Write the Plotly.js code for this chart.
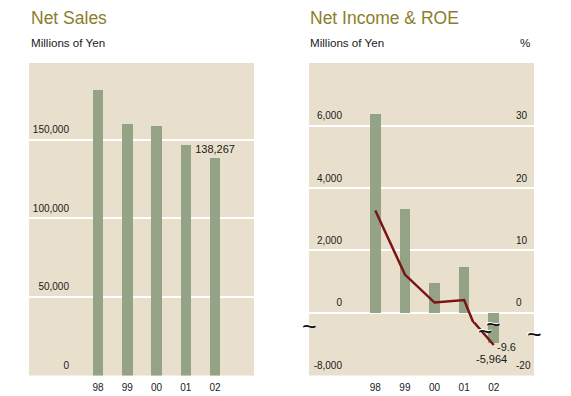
<!DOCTYPE html>
<html><head><meta charset="utf-8">
<script src="https://cdn.plot.ly/plotly-3.0.1.min.js"></script>
<style>html,body{margin:0;padding:0;background:#fff;}#chart{width:571px;height:396px;}</style>
</head><body><div id="chart"></div>
<script>
// ---- data ----
const years = ['98', '99', '00', '01', '02'];
const netSales = [181800, 160200, 158700, 146800, 138267];
const netIncome = [6380, 3330, 960, 1470, -5964];
const roe = [16.4, 6.1, 1.6, 2.0, -9.6];
const salesTicks = [0, 50000, 100000, 150000];
const incomeTicksTop = [0, 2000, 4000, 6000];
const incomeTicksBottom = [-8000];
const roeTicksTop = [0, 10, 20, 30];
const roeTicksBottom = [-20];

// ---- styling ----
const W = 571, H = 396;
const px = x => x / W;
const py = y => 1 - y / H;
const FONT = 'Arial, "Liberation Sans", sans-serif';
const BG = '#E8E0CC', BAR = '#94A286', LINE = '#7C1414', TITLE = '#8B7E2C', TXT = '#1a1a1a';
const tickFont = {family: FONT, size: 10, color: TXT};
const fmt = v => v.toLocaleString('en-US');
const last = years.length - 1;

const leftX = [px(29), px(254)];
const rightX = [px(309), px(534)];
const topY = 63, botY = 375.5, splitY = 322;

const baseX = {type: 'category', ticks: '', showgrid: false, zeroline: false, showline: false,
  tickfont: tickFont, automargin: false, fixedrange: true, ticklabelstandoff: 4};
const baseY = {ticks: '', zeroline: false, showline: false, tickfont: tickFont, automargin: false,
  fixedrange: true, gridcolor: '#FFFFFF', gridwidth: 2, tickmode: 'array',
  ticklabelposition: 'outside', ticklabelshift: -10};

const traces = [
  {type: 'bar', x: years, y: netSales, xaxis: 'x', yaxis: 'y', width: 0.36,
   marker: {color: BAR}, text: netSales.map((v, i) => i === last ? fmt(v) : ''),
   textposition: 'outside', cliponaxis: false, constraintext: 'none',
   textfont: {family: FONT, size: 11, color: TXT}, hoverinfo: 'skip'},
  {type: 'bar', x: years, y: netIncome, xaxis: 'x2', yaxis: 'y2', width: 0.36,
   marker: {color: BAR}, hoverinfo: 'skip'},
  {type: 'scatter', mode: 'lines', x: years, y: roe, xaxis: 'x2', yaxis: 'y3',
   line: {color: LINE, width: 2.5}, hoverinfo: 'skip'},
  {type: 'bar', x: years, y: netIncome, xaxis: 'x3', yaxis: 'y4', width: 0.36,
   marker: {color: BAR}, hoverinfo: 'skip'},
  {type: 'scatter', mode: 'lines', x: years, y: roe, xaxis: 'x3', yaxis: 'y5',
   line: {color: LINE, width: 2.5}, hoverinfo: 'skip'}
];

function ann(text, x, y, opts) {
  return Object.assign({text: text, x: px(x), y: py(y), xref: 'paper', yref: 'paper',
    showarrow: false, xanchor: 'left', yanchor: 'middle',
    font: {family: FONT, size: 11.6, color: TXT}}, opts || {});
}
const tildeWhite = (x, y) => ann('<b>~</b>', x, y, {xanchor: 'center', font: {family: FONT, size: 27, color: '#FFFFFF'}});
const tilde = (x, y) => ann('~', x, y, {xanchor: 'center', font: {family: FONT, size: 25, color: '#111'}});
const tildePts = [[309, 326], [493, 324], [485, 331], [534, 334]];

const layout = {
  width: W, height: H, margin: {l: 0, r: 0, t: 0, b: 0},
  paper_bgcolor: '#FFFFFF', plot_bgcolor: BG, showlegend: false, bargap: 0,
  xaxis: Object.assign({}, baseX, {domain: leftX, anchor: 'y', range: [-2.36, 5.33]}),
  yaxis: Object.assign({}, baseY, {domain: [py(botY), py(topY)], anchor: 'x', range: [0, 199000],
    tickvals: salesTicks, ticktext: salesTicks.map(fmt), showgrid: true, ticklabelstandoff: -41}),
  xaxis2: Object.assign({}, baseX, {domain: rightX, anchor: 'y2', range: [-2.24, 5.36], showticklabels: false}),
  yaxis2: Object.assign({}, baseY, {domain: [py(splitY), py(topY)], anchor: 'x2', range: [-305.5, 8022.5],
    tickvals: incomeTicksTop, ticktext: incomeTicksTop.map(fmt), showgrid: true, ticklabelstandoff: -34}),
  yaxis3: Object.assign({}, baseY, {overlaying: 'y2', anchor: 'x2', side: 'right', range: [-1.527, 40.11],
    tickvals: roeTicksTop, ticktext: roeTicksTop.map(fmt), showgrid: false, ticklabelstandoff: -19}),
  xaxis3: Object.assign({}, baseX, {domain: rightX, anchor: 'y4', range: [-2.24, 5.36]}),
  yaxis4: Object.assign({}, baseY, {domain: [py(botY), py(splitY)], anchor: 'x3', range: [-8000, -4648],
    tickvals: incomeTicksBottom, ticktext: incomeTicksBottom.map(fmt), showgrid: false, ticklabelstandoff: -34}),
  yaxis5: Object.assign({}, baseY, {overlaying: 'y4', anchor: 'x3', side: 'right', range: [-20, -1.756],
    tickvals: roeTicksBottom, ticktext: roeTicksBottom.map(fmt), showgrid: false, ticklabelstandoff: -19}),
  annotations: [
    ann('Net Sales', 29, 17.7, {font: {family: FONT, size: 17.5, color: TITLE}}),
    ann('Millions of Yen', 29, 42.7),
    ann('Net Income &amp; ROE', 308.3, 17.7, {font: {family: FONT, size: 17.5, color: TITLE}}),
    ann('Millions of Yen', 308.3, 42.7),
    ann('%', 532, 42.7, {xanchor: 'right'}),
    {text: fmt(netIncome[last]), x: last, y: netIncome[last], xref: 'x3', yref: 'y4',
     showarrow: false, xanchor: 'center', yanchor: 'top', xshift: -2, yshift: -8,
     font: {family: FONT, size: 11, color: TXT}},
    {text: fmt(roe[last]), x: last, y: roe[last], xref: 'x3', yref: 'y5',
     showarrow: false, xanchor: 'left', yanchor: 'middle', xshift: 1, yshift: -2,
     font: {family: FONT, size: 11, color: TXT}}
  ].concat(tildePts.map(p => tildeWhite(p[0], p[1])), tildePts.map(p => tilde(p[0], p[1])))
};

Plotly.newPlot('chart', traces, layout, {displayModeBar: false, staticPlot: true});
</script>
</body></html>
